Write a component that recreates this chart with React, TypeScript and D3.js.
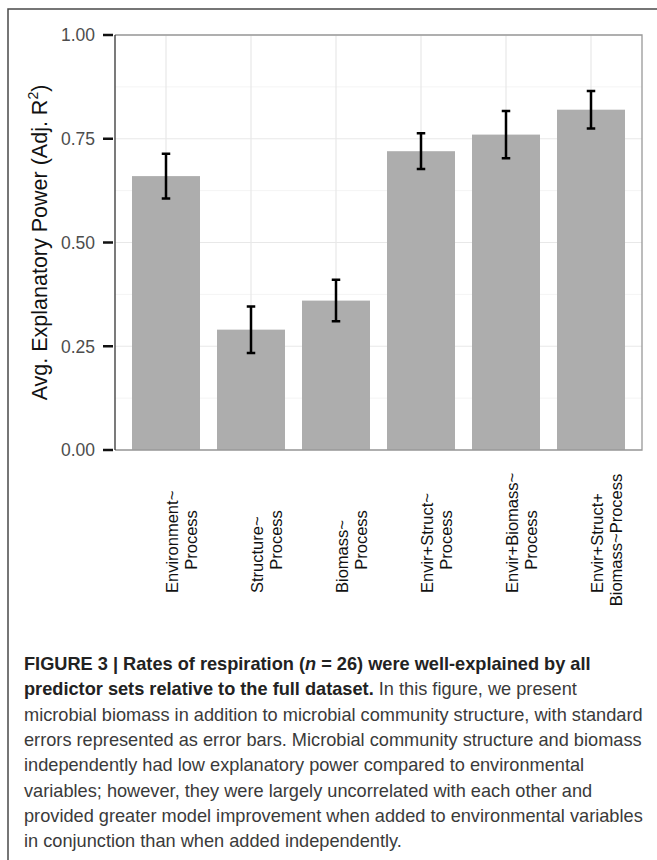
import { useEffect, useRef } from 'react'
import * as d3 from 'd3'

// predictor sets, each label split in its two printed lines
const labelLines = [
    ['Environment~', 'Process'],
    ['Structure~', 'Process'],
    ['Biomass~', 'Process'],
    ['Envir+Struct~', 'Process'],
    ['Envir+Biomass~', 'Process'],
    ['Envir+Struct+', 'Biomass~Process'],
]
const meanR2 = [0.66, 0.29, 0.36, 0.72, 0.76, 0.82]
const stdErr = [0.054, 0.056, 0.05, 0.043, 0.057, 0.045]
const yTicks = [0, 0.25, 0.5, 0.75, 1]
const yMinor = [0.125, 0.375, 0.625, 0.875]

const captionLines = [
    'microbial biomass in addition to microbial community structure, with standard',
    'errors represented as error bars. Microbial community structure and biomass',
    'independently had low explanatory power compared to environmental',
    'variables; however, they were largely uncorrelated with each other and',
    'provided greater model improvement when added to environmental variables',
    'in conjunction than when added independently.',
]

const App = () => {
    const ref = useRef<SVGSVGElement>(null)

    useEffect(() => {
        const width = 657
        const height = 860
        const left = 115
        const right = 642
        const top = 35
        const bottom = 450
        const font = '"Liberation Sans", Arial, sans-serif'

        const svg = d3.select(ref.current)
        svg.selectAll('*').remove()
        svg.attr('width', width).attr('height', height).attr('font-family', font)

        const x = d3
            .scaleBand<number>()
            .domain(d3.range(meanR2.length))
            .range([left, right])
            .paddingInner(0.2)
            .paddingOuter(0.2)
        const y = d3.scaleLinear().domain([0, 1]).range([bottom, top])

        // frame around the figure
        svg.append('path')
            .attr('d', `M8,${height} V9 H${width}`)
            .attr('fill', 'none')
            .attr('stroke', '#4a4a4a')
            .attr('stroke-width', 1.5)

        // grid
        const grid = svg.append('g')
        grid.selectAll('.minor')
            .data(yMinor)
            .join('line')
            .attr('x1', left)
            .attr('x2', right)
            .attr('y1', (d) => y(d))
            .attr('y2', (d) => y(d))
            .attr('stroke', '#f4f4f4')
            .attr('stroke-width', 1)
        grid.selectAll('.major')
            .data(yTicks)
            .join('line')
            .attr('x1', left)
            .attr('x2', right)
            .attr('y1', (d) => y(d))
            .attr('y2', (d) => y(d))
            .attr('stroke', '#e8e8e8')
            .attr('stroke-width', 1.2)
        grid.selectAll('.vert')
            .data(d3.range(meanR2.length))
            .join('line')
            .attr('x1', (d) => x(d)! + x.bandwidth() / 2)
            .attr('x2', (d) => x(d)! + x.bandwidth() / 2)
            .attr('y1', top)
            .attr('y2', bottom)
            .attr('stroke', '#e8e8e8')
            .attr('stroke-width', 1.2)

        // bars
        svg.append('g')
            .selectAll('rect')
            .data(meanR2)
            .join('rect')
            .attr('x', (_, i) => x(i)!)
            .attr('width', x.bandwidth())
            .attr('y', (d) => y(d))
            .attr('height', (d) => y(0) - y(d))
            .attr('fill', '#adadad')

        // error bars
        const capW = x.step() * 0.1
        const err = svg.append('g')
            .attr('stroke', '#000')
            .attr('stroke-width', 2.5)
            .attr('fill', 'none')
        err.selectAll('path')
            .data(meanR2)
            .join('path')
            .attr('d', (d, i) => {
                const cx = x(i)! + x.bandwidth() / 2
                const hi = y(d + stdErr[i])
                const lo = y(d - stdErr[i])
                return `M${cx - capW / 2},${hi}H${cx + capW / 2}M${cx},${hi}V${lo}M${cx - capW / 2},${lo}H${cx + capW / 2}`
            })

        // panel border
        svg.append('path')
            .attr('d', `M${left},${top}H${right}V${bottom}H${left}`)
            .attr('fill', 'none')
            .attr('stroke', '#999')
            .attr('stroke-width', 1.3)
        svg.append('line')
            .attr('x1', left)
            .attr('x2', left)
            .attr('y1', top)
            .attr('y2', bottom)
            .attr('stroke', '#333')
            .attr('stroke-width', 1.3)

        // y axis ticks + labels
        const yAxis = svg.append('g')
        yAxis.selectAll('line')
            .data(yTicks)
            .join('line')
            .attr('x1', left - 12)
            .attr('x2', left - 2)
            .attr('y1', (d) => y(d))
            .attr('y2', (d) => y(d))
            .attr('stroke', '#111')
            .attr('stroke-width', 2.5)
        yAxis.selectAll('text')
            .data(yTicks)
            .join('text')
            .attr('x', left - 20)
            .attr('y', (d) => y(d))
            .attr('dy', '0.36em')
            .attr('text-anchor', 'end')
            .attr('font-size', 17.5)
            .attr('fill', '#4d4d4d')
            .text((d) => d3.format('.2f')(d))

        // y title
        const title = svg.append('text')
            .attr('transform', `translate(47,${(top + bottom) / 2}) rotate(-90)`)
            .attr('text-anchor', 'middle')
            .attr('font-size', 21.5)
            .attr('fill', '#111')
        title.append('tspan').text('Avg. Explanatory Power (Adj. R')
        title.append('tspan').attr('font-size', 14).attr('dy', -9).text('2')
        title.append('tspan').attr('dy', 9).text(')')

        // x labels, rotated
        const xl = svg.append('g').attr('font-size', 16.5).attr('fill', '#111')
        labelLines.forEach((lines, i) => {
            const cx = x(i)! + x.bandwidth() / 2
            xl.append('text')
                .attr('transform', `translate(${cx + 12},593) rotate(-90)`)
                .attr('text-anchor', 'start')
                .text(lines[0])
            xl.append('text')
                .attr('transform', `translate(${cx + 30.5},540) rotate(-90)`)
                .attr('text-anchor', 'middle')
                .text(lines[1])
        })

        // caption
        const cap = svg.append('g').attr('font-size', 18.2).attr('fill', '#3a3a3a')
        const lineH = 25.3
        const l1 = cap.append('text').attr('x', 24).attr('y', 670).attr('font-weight', 'bold').attr('fill', '#222')
        l1.append('tspan').text('FIGURE 3 | Rates of respiration (')
        l1.append('tspan').attr('font-style', 'italic').text('n')
        l1.append('tspan').text(' = 26) were well-explained by all')
        const l2 = cap.append('text').attr('x', 24).attr('y', 670 + lineH)
        l2.append('tspan').attr('font-weight', 'bold').attr('fill', '#222').text('predictor sets relative to the full dataset.')
        l2.append('tspan').text(' In this figure, we present')
        cap.selectAll('.body')
            .data(captionLines)
            .join('text')
            .attr('x', 24)
            .attr('y', (_, i) => 670 + lineH * (i + 2))
            .text((d) => d)
    }, [])

    return (
        <svg
            ref={ref}
            style={{ position: 'absolute', left: 0, top: 0, display: 'block', background: '#fff' }}
        />
    )
}

export default App
